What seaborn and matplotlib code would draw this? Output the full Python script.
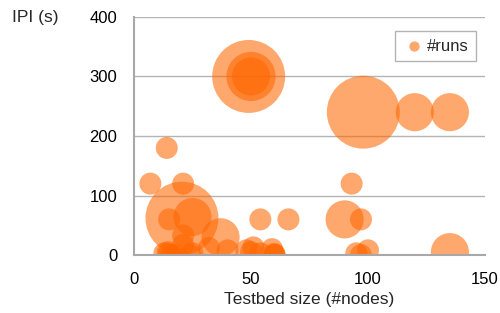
import numpy as np
import pandas as pd
import seaborn as sns
from matplotlib import pyplot as plt

# testbed size (#nodes), inter-packet interval (s), number of runs
nodes = [49, 50, 50, 98, 120, 135,
         14, 7, 21, 20.5, 15, 25, 21, 37,
         93, 54, 66, 90, 97,
         135, 100, 95, 59, 60, 60, 50, 54,
         14.5, 13, 16, 25, 21, 32, 40, 48, 51, 18, 60, 97, 15, 24]
ipi = [300, 300, 300, 240, 240, 240,
       180, 120, 120, 62, 60, 64, 33, 30,
       120, 60, 60, 60, 60,
       5, 8, 3, 10, 2, 0, 5, 3,
       5, 3, 0, 3, 17, 12, 8, 8, 13, 0, 0, 0, 2, 0]
runs = [11, 5, 3, 11, 3, 3,
        1, 1, 1, 11, 1, 3, 1, 3,
        1, 1, 1, 3, 1,
        3, 1, 1, 1, 1, 1, 1, 1,
        1, 1, 1, 1, 1, 1, 1, 1, 1, 1, 1, 1, 1, 1]

df = pd.DataFrame({"nodes": nodes, "ipi": ipi, "runs": runs})

sns.set_style("white")
plt.rcParams["font.family"] = ["Liberation Sans", "DejaVu Sans"]

fig = plt.figure(figsize=(5, 3.13), dpi=100)
ax = fig.add_axes([0.268, 0.185, 0.702, 0.761])

s1 = (1.44 * 11) ** 2
sns.scatterplot(data=df, x="nodes", y="ipi", size="runs",
                sizes=(s1, 11 * s1), size_norm=(1, 11),
                color="#FF6600", alpha=0.57, linewidth=0,
                legend=False, ax=ax)

ax.set_xlim(0, 150)
ax.set_ylim(0, 400)
ax.set_xticks([0, 50, 100, 150])
ax.set_yticks([0, 100, 200, 300, 400])
ax.yaxis.grid(True, color="#b4b4b4", linewidth=1)
ax.set_axisbelow(True)
for side in ["top", "right"]:
    ax.spines[side].set_visible(False)
for side in ["left", "bottom"]:
    ax.spines[side].set_color("#a8a8a8")
    ax.spines[side].set_linewidth(1.5)
ax.tick_params(axis="both", length=5, width=1.2, color="#a8a8a8",
               labelsize=12, labelcolor="black", pad=7)

ax.set_xlabel("Testbed size (#nodes)", fontsize=12.5, labelpad=4)
ax.set_ylabel("")
fig.text(0.024, 0.943, "IPI (s)", fontsize=12.5, va="center", ha="left")

# legend
ax.scatter([], [], s=55, color="#FF6600", alpha=0.57, linewidth=0, label="#runs")
leg = ax.legend(loc="upper right", bbox_to_anchor=(0.975, 0.94), frameon=True,
                fancybox=False, fontsize=12, handletextpad=0.05,
                borderpad=0.45, handlelength=1.4, borderaxespad=0)
leg.get_frame().set_edgecolor("#a0a0a0")
leg.get_frame().set_linewidth(1)

plt.savefig("out.png", dpi=100)
plt.close()
